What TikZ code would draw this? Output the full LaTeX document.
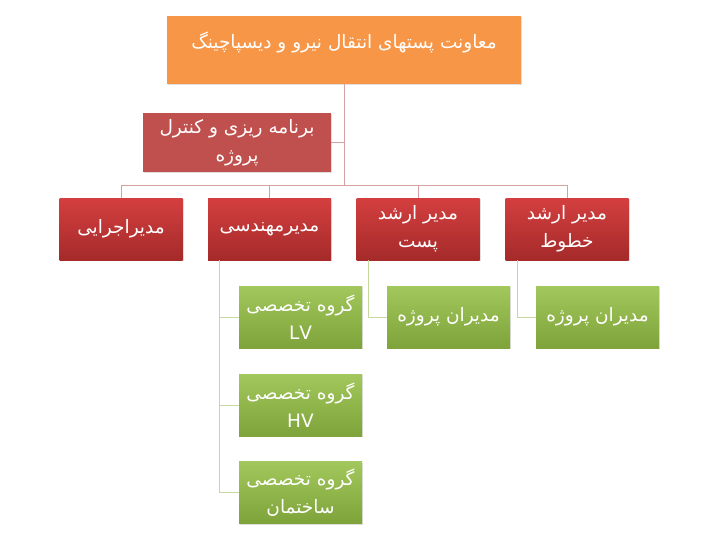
\documentclass[tikz,border=0pt]{standalone}
\usepackage{fontspec}
\newfontfamily\arabicfont[Script=Arabic]{DejaVu Sans}
\TeXXeTstate=1
\usetikzlibrary{shadows}
\definecolor{topor}{HTML}{F79646}
\definecolor{asstred}{HTML}{C0504D}
\definecolor{redtop}{HTML}{D43F3F}
\definecolor{redbot}{HTML}{A52A2A}
\definecolor{greentop}{HTML}{A2C75C}
\definecolor{greenbot}{HTML}{7EA33A}
\definecolor{linered}{HTML}{D6A2A1}
\definecolor{linegreen}{HTML}{C4D89F}
\newcommand\fatext[1]{\beginR#1\endR}
\begin{document}
\begin{tikzpicture}[x=1pt,y=-1pt,
    box/.style={minimum width=123pt,minimum height=62pt,inner sep=2pt,align=center,text=white,
      font=\arabicfont\fontsize{18.5}{28}\selectfont,
      drop shadow={opacity=.25,shadow xshift=1.2pt,shadow yshift=-1.2pt}},
    redbox/.style={box,top color=redtop,bottom color=redbot},
    greenbox/.style={box,top color=greentop,bottom color=greenbot},
    redline/.style={draw=linered,line width=.8pt},
    greenline/.style={draw=linegreen,line width=.8pt}]
  \useasboundingbox (0,0) rectangle (720,535);
  \node[box,fill=topor,minimum width=354pt,minimum height=68pt] (top) at (344,50)
    {\fatext{معاونت پستهای انتقال نیرو و دیسپاچینگ}\\[-8pt]\mbox{}};
  \node[box,fill=asstred,minimum width=188pt,minimum height=59pt] (asst) at (237,142.5)
    {\fatext{برنامه ریزی و کنترل}\\\fatext{پروژه}};
  \node[redbox] (m1) at (121,229) {\fatext{مدیراجرایی}};
  \node[redbox] (m2) at (269.5,229) {\fatext{مدیرمهندسی}};
  \node[redbox] (m3) at (418,229) {\fatext{مدیر ارشد}\\\fatext{پست}};
  \node[redbox] (m4) at (567,229) {\fatext{مدیر ارشد}\\\fatext{خطوط}};
  \node[greenbox] (g1) at (300.5,317) {\fatext{گروه تخصصی}\\LV};
  \node[greenbox] (g2) at (300.5,405) {\fatext{گروه تخصصی}\\HV};
  \node[greenbox] (g3) at (300.5,492.5) {\fatext{گروه تخصصی}\\\fatext{ساختمان}};
  \node[greenbox] (p1) at (448.5,317) {\fatext{مدیران پروژه}};
  \node[greenbox] (p2) at (597.5,317) {\fatext{مدیران پروژه}};
  \coordinate (bus) at (344,185);
  \draw[redline] (top.south) -- (bus);
  \draw[redline] (asst.east) -- (asst.east -| top.south);
  \foreach \n in {m1,m2,m3,m4}
    \draw[redline] (bus) -| (\n.north);
  \foreach \m/\g in {m2/g1,m2/g2,m2/g3,m3/p1,m4/p2}
    \draw[greenline] ([xshift=12pt]\m.south west) |- (\g.west);
\end{tikzpicture}
\end{document}
